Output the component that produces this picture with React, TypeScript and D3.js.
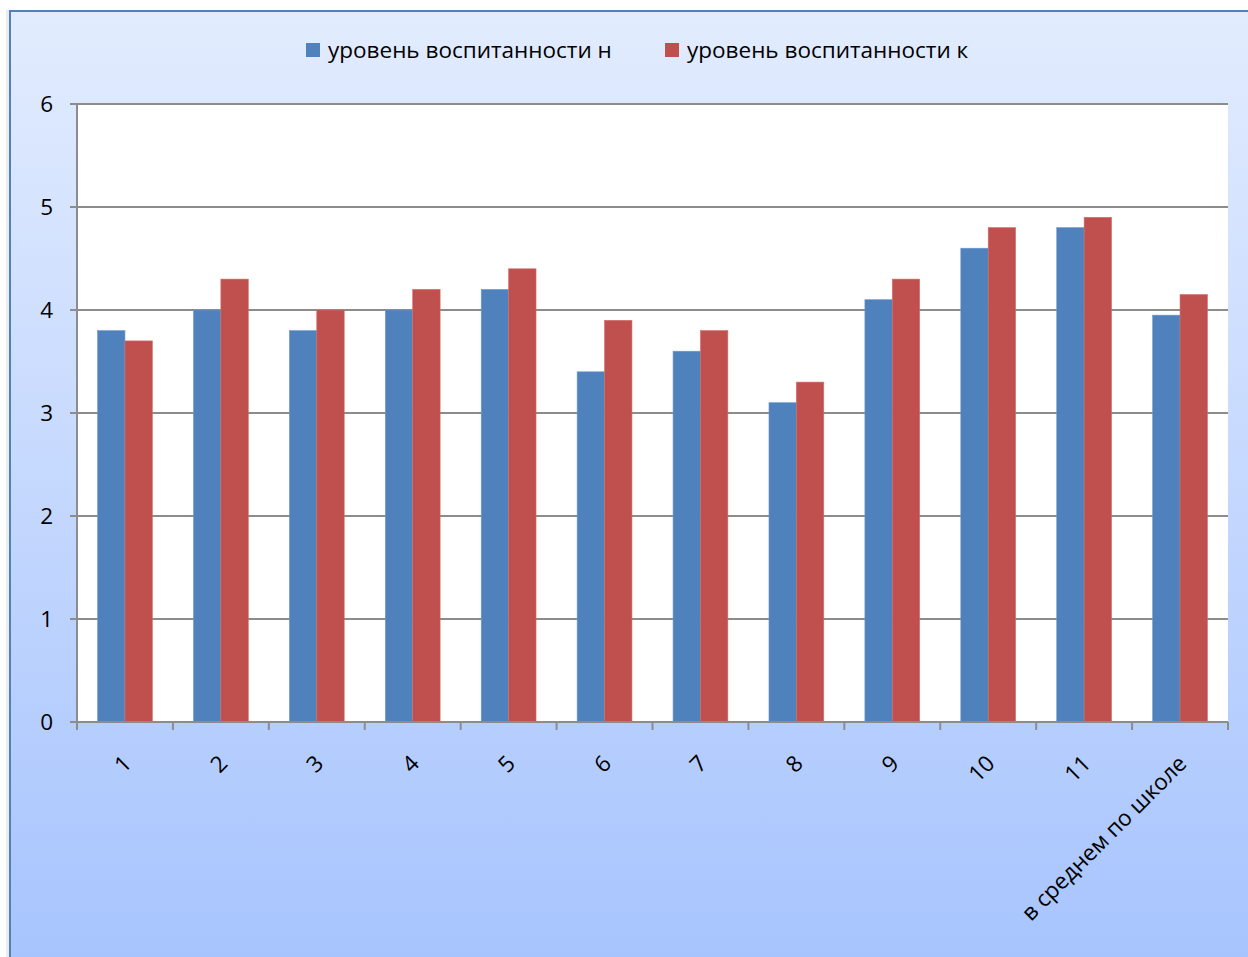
import React from "react";
import * as d3 from "d3";

const categories = ["1", "2", "3", "4", "5", "6", "7", "8", "9", "10", "11", "в среднем по школе"];
const seriesNames = ["уровень воспитанности н", "уровень воспитанности к"];
const seriesN = [3.8, 4.0, 3.8, 4.0, 4.2, 3.4, 3.6, 3.1, 4.1, 4.6, 4.8, 3.95];
const seriesK = [3.7, 4.3, 4.0, 4.2, 4.4, 3.9, 3.8, 3.3, 4.3, 4.8, 4.9, 4.15];
const yTicks = [0, 1, 2, 3, 4, 5, 6];
const colors = ["#4F81BD", "#C0504D"];

const W = 1248;
const H = 957;
const plot = { left: 77, right: 1228, top: 104, bottom: 722 };
const FONT = "'Open Sans', sans-serif";

export default function App() {
  const x = d3.scaleBand<string>().domain(categories).range([plot.left, plot.right]).paddingInner(0).paddingOuter(0);
  const y = d3.scaleLinear().domain([0, 6]).range([plot.bottom, plot.top]);
  const bw = x.bandwidth();
  const barW = bw / 3.5;
  const offset = (bw - 2 * barW) / 2;
  const series = [seriesN, seriesK];

  return (
    <svg width={W} height={H} style={{ position: "absolute", left: 0, top: 0 }} fontFamily={FONT}>
      <defs>
        <linearGradient id="bg" x1="0" y1="0" x2="0" y2="1">
          <stop offset="0" stopColor="#E2ECFE" />
          <stop offset="1" stopColor="#A7C4FE" />
        </linearGradient>
      </defs>
      <rect x={0} y={0} width={W} height={H} fill="#ffffff" />
      <rect x={6} y={10} width={4} height={H} fill="#e0e0e0" opacity={0.6} />
      <rect x={10} y={11} width={W} height={H} fill="url(#bg)" stroke="#4F81BD" strokeWidth={2} />
      <rect x={plot.left} y={plot.top} width={plot.right - plot.left} height={plot.bottom - plot.top} fill="#ffffff" />
      {yTicks.map((t) => (
        <line key={"g" + t} x1={plot.left - 7} x2={plot.right} y1={y(t)} y2={y(t)} stroke="#8c8c8c" strokeWidth={2} />
      ))}
      {series.map((s, si) =>
        s.map((v, i) => (
          <rect
            key={si + "-" + i}
            x={(x(categories[i]) as number) + offset + si * barW}
            y={y(v)}
            width={barW}
            height={y(0) - y(v)}
            fill={colors[si]}
            stroke={si === 0 ? "#6f98cc" : "#cf6e6b"}
            strokeWidth={0.6}
          />
        ))
      )}
      <line x1={plot.left} x2={plot.left} y1={plot.top} y2={plot.bottom} stroke="#8c8c8c" strokeWidth={2} />
      <line x1={plot.left - 7} x2={plot.right} y1={plot.bottom} y2={plot.bottom} stroke="#8c8c8c" strokeWidth={2} />
      {categories.map((c, i) => (
        <line key={"t" + i} x1={x(c) as number} x2={x(c) as number} y1={plot.bottom} y2={plot.bottom + 8} stroke="#8c8c8c" strokeWidth={2} />
      ))}
      <line x1={plot.right} x2={plot.right} y1={plot.bottom} y2={plot.bottom + 8} stroke="#8c8c8c" strokeWidth={2} />
      {yTicks.map((t) => (
        <text key={"yl" + t} x={53} y={y(t)} dy="0.35em" textAnchor="end" fontSize={22.5} fill="#000">
          {t}
        </text>
      ))}
      {categories.map((c) => {
        const cx = (x(c) as number) + bw / 2 + 8;
        const cy = plot.bottom + 43;
        return (
          <text key={"xl" + c} x={cx} y={cy} textAnchor="end" fontSize={22.5} fill="#000" transform={`rotate(-45 ${cx} ${cy})`}>
            {c}
          </text>
        );
      })}
      {seriesNames.map((n, i) => {
        const lx = [306, 665][i];
        return (
          <g key={"lg" + i}>
            <rect x={lx} y={43} width={14} height={14} fill={colors[i]} />
            <text x={lx + 22} y={50} dy="0.35em" fontSize={22.5} fill="#000">
              {n}
            </text>
          </g>
        );
      })}
    </svg>
  );
}
